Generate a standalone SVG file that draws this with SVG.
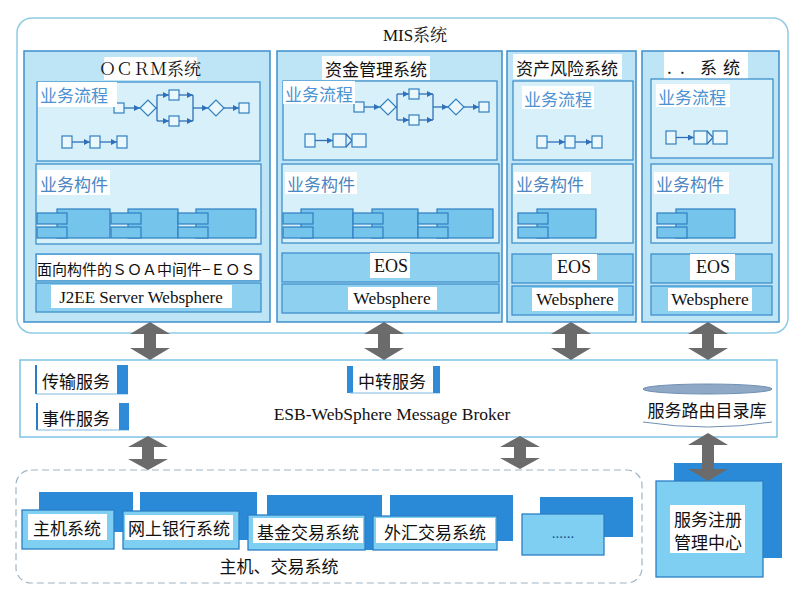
<svg xmlns="http://www.w3.org/2000/svg" xmlns:xlink="http://www.w3.org/1999/xlink" width="809" height="596" viewBox="0 0 809 596">
<style>
.cjk{font-family:"Noto Sans CJK SC","Noto Sans",sans-serif}
.ser{font-family:"Liberation Serif","Noto Serif CJK SC","Noto Sans CJK SC",serif}
text{dominant-baseline:central}
.col{fill:#bde5f6;stroke:#3f8fcb;stroke-width:1.5}
.inner{fill:#d7f0fa;stroke:#3f8fcb;stroke-width:1.3}
.row{fill:#8ed0ef;stroke:#3f8fcb;stroke-width:1.3}
.comp{fill:#74c4ec;stroke:#2f7fc2;stroke-width:1.2}
.wbg{fill:#ffffff}
.title{font-size:17px;fill:#111}
.lblf{font-size:17px;fill:#4b93d3}
.lblc{font-size:17px;fill:#4a86c2}
.sq{fill:#eaf7fd;stroke:#2f7fc0;stroke-width:1.2}
.fl{fill:none;stroke:#2f70b8;stroke-width:1.3}
.fla{fill:none;stroke:#2f70b8;stroke-width:1.3;marker-end:url(#ah)}
.garr{fill:#6b6b6b}
.back{fill:#2b8ad8}
.front{fill:#7fcff3;stroke:#2b7fc5;stroke-width:1.3}
.txt{font-size:17px;fill:#111}
.dbar{fill:#2f8ad8}
</style>
<defs>
<marker id="ah" markerWidth="6" markerHeight="6" refX="6" refY="3" orient="auto" markerUnits="userSpaceOnUse">
<path d="M0,0 L6,3 L0,6 Z" fill="#2f70b8"/>
</marker>
<g id="flowA">
<rect class="sq" x="114" y="103" width="10" height="10"/>
<line class="fla" x1="124" y1="108" x2="140" y2="108"/>
<polygon class="sq" points="140,108 148,100 156,108 148,116"/>
<path class="fl" d="M156,108 H157 M157,95 V121"/>
<line class="fla" x1="157" y1="95" x2="169" y2="95"/>
<line class="fla" x1="157" y1="121" x2="169" y2="121"/>
<rect class="sq" x="169" y="90" width="10" height="10"/>
<rect class="sq" x="169" y="116" width="10" height="10"/>
<line class="fla" x1="179" y1="95" x2="193" y2="95"/>
<line class="fla" x1="179" y1="121" x2="193" y2="121"/>
<path class="fl" d="M193,95 V121"/>
<line class="fla" x1="193" y1="108" x2="208" y2="108"/>
<polygon class="sq" points="208,108 216,100 224,108 216,116"/>
<line class="fla" x1="224" y1="108" x2="239" y2="108"/>
<rect class="sq" x="239" y="103" width="10" height="10"/>
</g>
<g id="flowB">
<rect class="sq" x="62" y="136" width="10" height="12"/>
<line class="fla" x1="72" y1="142" x2="90" y2="142"/>
<rect class="sq" x="90" y="136" width="10" height="12"/>
<line class="fla" x1="100" y1="142" x2="117" y2="142"/>
<rect class="sq" x="117" y="136" width="10" height="12"/>
</g>
<g id="flowC">
<rect class="sq" x="305" y="134" width="10" height="13"/>
<line class="fla" x1="315" y1="140.5" x2="333" y2="140.5"/>
<rect class="sq" x="333" y="134" width="13" height="13"/>
<polyline class="fl" points="346,134 352,140.5 346,147"/>
<rect class="sq" x="352" y="134" width="14" height="13"/>
</g>
<g id="compo">
<rect class="comp" x="20" y="209" width="53" height="29"/>
<rect class="comp" x="0" y="213" width="30" height="11"/>
<rect class="comp" x="0" y="227" width="30" height="11"/>
</g>
</defs>

<!-- MIS outer -->
<g id="mis">
<rect x="17" y="18" width="771" height="315" rx="15" fill="#ffffff" stroke="#8fcbe6" stroke-width="1.5"/>
<text class="ser title" x="415" y="35" text-anchor="middle">MIS系统</text>
</g>

<!-- Column 1 OCRM -->
<g id="col-ocrm">
<rect class="col" x="24" y="51" width="246" height="271"/>
<rect class="wbg" x="104" y="57" width="93" height="23"/>
<text class="ser title" x="150" y="69" text-anchor="middle">ＯＣＲＭ系统</text>
<rect class="inner" x="37" y="82" width="223" height="79"/>
<use xlink:href="#flowA"/>
<use xlink:href="#flowB"/>
<rect class="wbg" x="38" y="82" width="79" height="25"/>
<text class="cjk lblf" x="40" y="94">业务流程</text>
<rect class="inner" x="36" y="164" width="225" height="80"/>
<rect class="wbg" x="38" y="170" width="72" height="25"/>
<text class="cjk lblc" x="40" y="183">业务构件</text>
<g transform="translate(37,0)"><rect class="comp" x="20" y="209" width="53" height="29"/><rect class="comp" x="0" y="213" width="30" height="11"/><rect class="comp" x="0" y="227" width="30" height="11"/></g>
<g transform="translate(111,0)"><rect class="comp" x="17" y="209" width="50" height="29"/><rect class="comp" x="0" y="213" width="30" height="11"/><rect class="comp" x="0" y="227" width="30" height="11"/></g>
<g transform="translate(178,0)"><rect class="comp" x="18" y="209" width="60" height="29"/><rect class="comp" x="0" y="213" width="30" height="11"/><rect class="comp" x="0" y="227" width="30" height="11"/></g>
<rect class="row" x="36" y="254" width="225" height="27"/>
<rect class="wbg" x="37" y="255" width="222" height="25"/>
<text class="cjk" x="37" y="268" font-size="15" fill="#111">面向构件的ＳＯＡ中间件−ＥＯＳ</text>
<rect class="row" x="36" y="283" width="225" height="29"/>
<rect class="wbg" x="51" y="285" width="181" height="23"/>
<text class="ser" x="141" y="297" font-size="17" fill="#111" text-anchor="middle">J2EE Server Websphere</text>
</g>

<!-- Column 2 -->
<g id="col-fund">
<rect class="col" x="277" y="51" width="225" height="271"/>
<rect class="wbg" x="322" y="56" width="108" height="24"/>
<text class="cjk title" x="376" y="68" text-anchor="middle">资金管理系统</text>
<rect class="inner" x="283" y="81" width="214" height="79"/>
<use xlink:href="#flowA" transform="translate(240,-1)"/>
<use xlink:href="#flowC"/>
<rect class="wbg" x="283" y="81" width="72" height="23"/>
<text class="cjk lblf" x="285" y="93">业务流程</text>
<rect class="inner" x="282" y="164" width="217" height="79"/>
<rect class="wbg" x="285" y="172" width="72" height="22"/>
<text class="cjk lblc" x="287" y="183">业务构件</text>
<g transform="translate(283,0)"><rect class="comp" x="18" y="209" width="52" height="29"/><rect class="comp" x="0" y="213" width="30" height="11"/><rect class="comp" x="0" y="227" width="30" height="11"/></g>
<g transform="translate(353,0)"><rect class="comp" x="19" y="209" width="46" height="29"/><rect class="comp" x="0" y="213" width="30" height="11"/><rect class="comp" x="0" y="227" width="30" height="11"/></g>
<g transform="translate(418,0)"><rect class="comp" x="19" y="209" width="56" height="29"/><rect class="comp" x="0" y="213" width="30" height="11"/><rect class="comp" x="0" y="227" width="30" height="11"/></g>
<rect class="row" x="282" y="253" width="217" height="29"/>
<rect class="wbg" x="370" y="253" width="40" height="25"/>
<text class="ser" x="391" y="266" font-size="18" fill="#111" text-anchor="middle">EOS</text>
<rect class="row" x="282" y="284" width="217" height="29"/>
<rect class="wbg" x="348" y="287" width="89" height="23"/>
<text class="ser" x="392" y="298" font-size="17.5" fill="#111" text-anchor="middle">Websphere</text>
</g>

<!-- Column 3 -->
<g id="col-risk">
<rect class="col" x="507" y="51" width="129" height="271"/>
<rect class="wbg" x="513" y="54" width="109" height="25"/>
<text class="cjk title" x="567" y="67" text-anchor="middle">资产风险系统</text>
<rect class="inner" x="513" y="81" width="120" height="79"/>
<rect class="wbg" x="522" y="86" width="72" height="23"/>
<text class="cjk lblf" x="524" y="98">业务流程</text>
<use xlink:href="#flowB" transform="translate(475,0)"/>
<rect class="inner" x="512" y="164" width="121" height="79"/>
<rect class="wbg" x="514" y="172" width="77" height="22"/>
<text class="cjk lblc" x="516" y="183">业务构件</text>
<g transform="translate(518,0)"><rect class="comp" x="19" y="209" width="59" height="29"/><rect class="comp" x="0" y="213" width="30" height="11"/><rect class="comp" x="0" y="227" width="30" height="11"/></g>
<rect class="row" x="512" y="254" width="121" height="29"/>
<rect class="wbg" x="552" y="254" width="45" height="26"/>
<text class="ser" x="574" y="267" font-size="18" fill="#111" text-anchor="middle">EOS</text>
<rect class="row" x="512" y="286" width="121" height="29"/>
<rect class="wbg" x="532" y="288" width="86" height="23"/>
<text class="ser" x="575" y="299" font-size="17.5" fill="#111" text-anchor="middle">Websphere</text>
</g>

<!-- Column 4 -->
<g id="col-etc">
<rect class="col" x="642" y="51" width="137" height="271"/>
<rect class="wbg" x="664" y="52" width="84" height="27"/>
<text class="cjk title" x="667 673 680 686 700 717 723" y="66">. . 系 统</text>
<rect class="inner" x="651" y="79" width="122" height="79"/>
<rect class="wbg" x="656" y="84" width="74" height="23"/>
<text class="cjk lblf" x="658" y="96">业务流程</text>
<use xlink:href="#flowC" transform="translate(361,-3)"/>
<rect class="inner" x="651" y="164" width="121" height="79"/>
<rect class="wbg" x="654" y="172" width="75" height="22"/>
<text class="cjk lblc" x="656" y="183">业务构件</text>
<g transform="translate(657,0)"><rect class="comp" x="19" y="209" width="59" height="29"/><rect class="comp" x="0" y="213" width="30" height="11"/><rect class="comp" x="0" y="227" width="30" height="11"/></g>
<rect class="row" x="651" y="254" width="121" height="29"/>
<rect class="wbg" x="690" y="254" width="45" height="26"/>
<text class="ser" x="713" y="267" font-size="18" fill="#111" text-anchor="middle">EOS</text>
<rect class="row" x="651" y="286" width="121" height="29"/>
<rect class="wbg" x="668" y="288" width="84" height="23"/>
<text class="ser" x="710" y="299" font-size="17.5" fill="#111" text-anchor="middle">Websphere</text>
</g>

<!-- ESB -->
<g id="esb">
<rect x="20" y="360" width="757" height="77" fill="#ffffff" stroke="#7fc3e3" stroke-width="1.5"/>
<text class="ser" x="392" y="414" font-size="17.5" fill="#111" text-anchor="middle">ESB-WebSphere Message Broker</text>
</g>
<g id="svc-transport">
<line x1="36" y1="365" x2="36" y2="394" stroke="#2a7cc4" stroke-width="2"/>
<line x1="36" y1="394" x2="128" y2="394" stroke="#7fb8e0" stroke-width="1"/>
<rect class="dbar" x="117" y="365" width="11" height="29"/>
<text class="cjk txt" x="42" y="380">传输服务</text>
</g>
<g id="svc-event">
<line x1="37" y1="403" x2="37" y2="430" stroke="#2a7cc4" stroke-width="2"/>
<line x1="37" y1="430" x2="129" y2="430" stroke="#7fb8e0" stroke-width="1"/>
<rect class="dbar" x="119" y="403" width="10" height="27"/>
<text class="cjk txt" x="42" y="417">事件服务</text>
</g>
<g id="svc-relay">
<rect class="dbar" x="347" y="366" width="6" height="27"/>
<line x1="350" y1="393" x2="440" y2="393" stroke="#7fb8e0" stroke-width="1"/>
<rect class="dbar" x="433" y="366" width="7" height="27"/>
<text class="cjk txt" x="358" y="380">中转服务</text>
</g>
<g id="route-db">
<ellipse cx="707.5" cy="389" rx="64.5" ry="5" fill="#8ea8c6" stroke="#6f8fb4" stroke-width="1"/>
<path d="M643,422 Q707.5,432 772,422" fill="none" stroke="#6f8fb4" stroke-width="1"/>
<text class="cjk txt" x="707" y="409" text-anchor="middle">服务路由目录库</text>
</g>

<!-- Bottom systems -->
<g id="host-trade">
<rect x="16" y="470" width="626" height="113" rx="15" fill="none" stroke="#9fb4c4" stroke-width="1.2" stroke-dasharray="7 4"/>
<text class="cjk txt" x="279" y="565" text-anchor="middle">主机、交易系统</text>
</g>
<g id="sys-host">
<rect class="back" x="39" y="492" width="94" height="40"/>
<rect class="front" x="22" y="510" width="92" height="39"/>
<rect class="wbg" x="28" y="514" width="79" height="26"/>
<text class="cjk txt" x="67" y="527" text-anchor="middle">主机系统</text>
</g>
<g id="sys-ebank">
<rect class="back" x="140" y="492" width="117" height="48"/>
<rect class="front" x="123" y="511" width="116" height="38"/>
<rect class="wbg" x="125" y="515" width="108" height="25"/>
<text class="cjk txt" x="179" y="527" text-anchor="middle">网上银行系统</text>
</g>
<g id="sys-fund">
<rect class="back" x="267" y="495" width="115" height="55"/>
<rect class="front" x="248" y="515" width="117" height="35"/>
<rect class="wbg" x="253" y="518" width="110" height="25"/>
<text class="cjk txt" x="308" y="531" text-anchor="middle">基金交易系统</text>
</g>
<g id="sys-fx">
<rect class="back" x="390" y="495" width="123" height="46"/>
<rect class="front" x="373" y="516" width="124" height="34"/>
<rect class="wbg" x="376" y="518" width="119" height="25"/>
<text class="cjk txt" x="435" y="531" text-anchor="middle">外汇交易系统</text>
</g>
<g id="sys-more">
<rect class="back" x="540" y="497" width="93" height="40"/>
<rect class="front" x="522" y="514" width="82" height="41"/>
<text class="ser" x="563" y="533" font-size="15" fill="#1c4f8a" text-anchor="middle">......</text>
</g>
<g id="registry">
<rect class="back" x="674" y="463" width="108" height="95"/>
<rect class="front" x="656" y="481" width="107" height="96"/>
<rect class="wbg" x="670" y="505" width="75" height="48"/>
<text class="cjk txt" x="708" y="518" text-anchor="middle" font-size="18">服务注册</text>
<text class="cjk txt" x="708" y="541" text-anchor="middle" font-size="18">管理中心</text>
</g>

<!-- Connectors -->
<g id="connectors">
<path class="garr" d="M150,322 L170,334 L156,334 L156,348 L170,348 L150,360 L130,348 L144,348 L144,334 L130,334 Z"/>
<path class="garr" d="M384,322 L404,334 L390,334 L390,348 L404,348 L384,360 L364,348 L378,348 L378,334 L364,334 Z"/>
<path class="garr" d="M571,322 L591,334 L577,334 L577,348 L591,348 L571,360 L551,348 L565,348 L565,334 L551,334 Z"/>
<path class="garr" d="M708,322 L728,334 L714,334 L714,348 L728,348 L708,360 L688,348 L702,348 L702,334 L688,334 Z"/>
<path class="garr" d="M148,436 L168,447 L154,447 L154,459 L168,459 L148,470 L128,459 L142,459 L142,447 L128,447 Z"/>
<path class="garr" d="M520,436 L540,447 L526,447 L526,458 L540,458 L520,469 L500,458 L514,458 L514,447 L500,447 Z"/>
<path class="garr" d="M708,433 L728,445 L714,445 L714,469 L728,469 L708,481 L688,469 L702,469 L702,445 L688,445 Z"/>
</g>
</svg>
